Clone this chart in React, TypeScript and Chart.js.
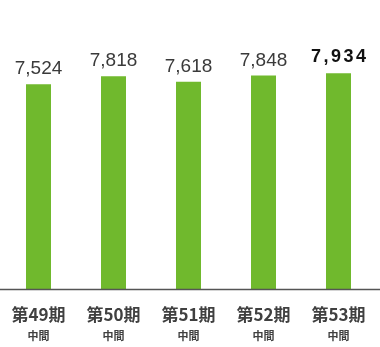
import React, { useEffect, useRef } from "react";
import { Chart, registerables } from "chart.js";

Chart.register(...registerables);

const periods = ["第49期", "第50期", "第51期", "第52期", "第53期"];
const subLabels = ["中間", "中間", "中間", "中間", "中間"];
const values = [7524, 7818, 7618, 7848, 7934];
const highlightIndex = 4;

const fmt = (v: number) => v.toLocaleString("en-US");

const labelPlugin = {
  id: "customLabels",
  afterDraw(chart: any) {
    const ctx = chart.ctx;
    const meta = chart.getDatasetMeta(0);
    const xScale = chart.scales.x;
    const area = chart.chartArea;
    ctx.save();
    // axis line
    ctx.strokeStyle = "#555555";
    ctx.lineWidth = 1.5;
    ctx.beginPath();
    ctx.moveTo(0, area.bottom + 0.5);
    ctx.lineTo(chart.width, area.bottom + 0.5);
    ctx.stroke();

    meta.data.forEach((bar: any, i: number) => {
      const x = bar.x;
      const y = bar.y;
      ctx.textAlign = "center";
      ctx.textBaseline = "alphabetic";
      if (i === highlightIndex) {
        ctx.font = "bold 18px 'Liberation Sans', Arial, sans-serif";
        ctx.fillStyle = "#111111";
        (ctx as any).letterSpacing = "2.5px";
        ctx.fillText(fmt(values[i]), x + 1.25, y - 11);
        (ctx as any).letterSpacing = "0px";
      } else {
        ctx.font = "19px 'Liberation Sans', Arial, sans-serif";
        ctx.fillStyle = "#3a3a3a";
        ctx.fillText(fmt(values[i]), x, y - 10);
      }
      const cx = xScale.getPixelForValue(i);
      ctx.textBaseline = "middle";
      ctx.fillStyle = "#404040";
      ctx.font = "bold 17px 'Noto Sans CJK JP', sans-serif";
      ctx.fillText(periods[i], cx, 315);
      ctx.font = "bold 11px 'Noto Sans CJK JP', sans-serif";
      ctx.fillText(subLabels[i], cx, 336);
    });
    ctx.restore();
  },
};

export default function App() {
  const ref = useRef<HTMLCanvasElement>(null);
  useEffect(() => {
    if (!ref.current) return;
    const chart = new Chart(ref.current, {
      type: "bar",
      data: {
        labels: periods,
        datasets: [
          {
            data: values,
            backgroundColor: "#70b92d",
            categoryPercentage: 1,
            barPercentage: 1 / 3,
          },
        ],
      },
      options: {
        animation: false,
        responsive: false,
        maintainAspectRatio: false,
        layout: { padding: { left: 1, right: 4, top: 17, bottom: 58 } },
        plugins: { legend: { display: false }, tooltip: { enabled: false } },
        scales: {
          x: { display: false, grid: { display: false } },
          y: { display: false, min: 0, max: 10000 },
        },
      },
      plugins: [labelPlugin],
    });
    return () => chart.destroy();
  }, []);
  return (
    <div style={{ position: "fixed", left: 0, top: 0, width: 380, height: 347, background: "#fff" }}>
      <canvas ref={ref} width={380} height={347} style={{ width: 380, height: 347 }} />
    </div>
  );
}
